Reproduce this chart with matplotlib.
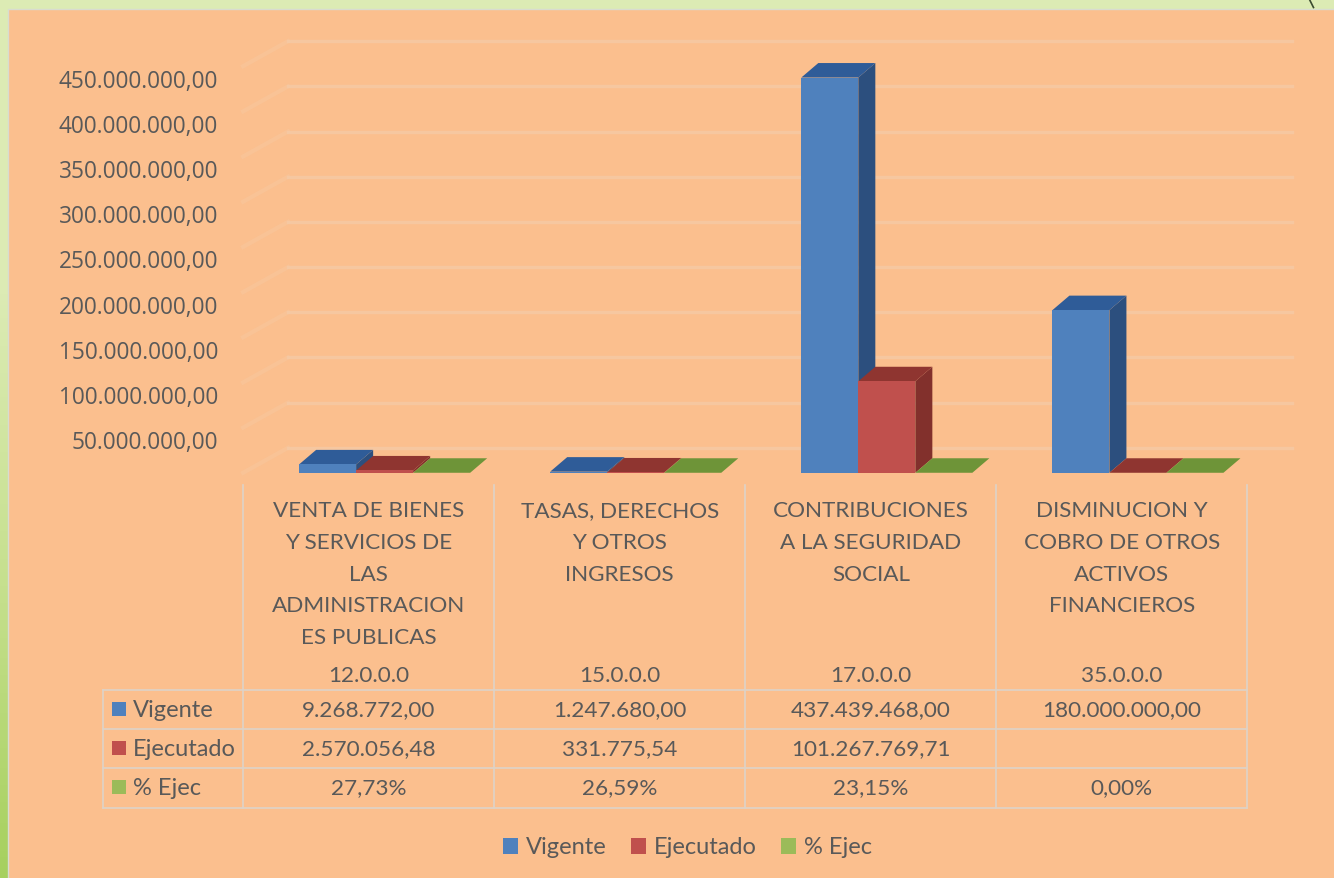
import numpy as np
import matplotlib
matplotlib.use('Agg')
import matplotlib.pyplot as plt
from matplotlib.patches import Polygon, Patch, Rectangle
from matplotlib.transforms import ScaledTranslation

categorias = [
    ['VENTA DE BIENES', 'Y SERVICIOS DE', 'LAS', 'ADMINISTRACION', 'ES PUBLICAS'],
    ['TASAS, DERECHOS', 'Y OTROS', 'INGRESOS'],
    ['CONTRIBUCIONES', 'A LA SEGURIDAD', 'SOCIAL'],
    ['DISMINUCION Y', 'COBRO DE OTROS', 'ACTIVOS', 'FINANCIEROS'],
]
codigos = ['12.0.0.0', '15.0.0.0', '17.0.0.0', '35.0.0.0']

series = ['Vigente', 'Ejecutado', '% Ejec']
vigente = [9268772.00, 1247680.00, 437439468.00, 180000000.00]
ejecutado = [2570056.48, 331775.54, 101267769.71, 0]
ejec_pct = [0.2773, 0.2659, 0.2315, 0.0]

vigente_txt = ['9.268.772,00', '1.247.680,00', '437.439.468,00', '180.000.000,00']
ejecutado_txt = ['2.570.056,48', '331.775,54', '101.267.769,71', '']
pct_txt = ['27,73%', '26,59%', '23,15%', '0,00%']

yticks = [50e6, 100e6, 150e6, 200e6, 250e6, 300e6, 350e6, 400e6, 450e6]
ytick_txt = ['50.000.000,00', '100.000.000,00', '150.000.000,00', '200.000.000,00',
             '250.000.000,00', '300.000.000,00', '350.000.000,00', '400.000.000,00',
             '450.000.000,00']

naranja = '#FBBF8E'
gris = '#595959'
linea = '#DDD3C8'
frente = ['#4F81BD', '#C0504D', '#9BBB59']
arriba = ['#2F5C98', '#8F3530', '#6E9438']
lado = ['#2C4F7E', '#82302C', '#5F8030']

W, H = 1334, 878
# el +0.5 evita que 8.78*100 se trunque a 877
fig = plt.figure(figsize=((W + 0.5) / 100, (H + 0.5) / 100), dpi=100)

# fondo y tabla, en pixeles de la figura
bg = fig.add_axes([0, 0, 1, 1])
bg.set_xlim(0, W)
bg.set_ylim(H, 0)
bg.axis('off')
grad = np.linspace(0, 1, 256).reshape(-1, 1)
cmap = matplotlib.colors.LinearSegmentedColormap.from_list(
    'borde', ['#DCEBB4', '#DCEBB4', '#C6E08E', '#A6D05E'])
bg.imshow(grad, extent=[0, W, H, 0], aspect='auto', cmap=cmap, zorder=0)
bg.add_patch(Rectangle((8, 9), W, H, fc=naranja, ec='#D8DCD0', lw=1, zorder=1))
bg.plot([1309, 1313], [0, 8], color='#3A4A30', lw=1.2, zorder=2)

x_col = [243, 494, 745, 996, 1247]
y_fil = [690, 729, 768, 808]
for x in x_col:
    bg.plot([x, x], [485, 808], color=linea, lw=1.2, zorder=2)
bg.plot([103, 103], [690, 808], color=linea, lw=1.2, zorder=2)
for y in y_fil:
    bg.plot([103, 1247], [y, y], color=linea, lw=1.2, zorder=2)

fs_tabla = 16.2
for i, lineas in enumerate(categorias):
    xc = (x_col[i] + x_col[i + 1]) / 2
    for j, t in enumerate(lineas):
        bg.text(xc, 511 + j * 31.6, t, ha='center', va='center', family='Lato',
                fontsize=fs_tabla, color=gris, zorder=3)
    bg.text(xc, 676, codigos[i], ha='center', va='center', family='Lato',
            fontsize=fs_tabla, color=gris, zorder=3)
    for y, col in zip([710, 749, 788], [vigente_txt, ejecutado_txt, pct_txt]):
        bg.text(xc, y, col[i], ha='center', va='center', family='Lato',
                fontsize=fs_tabla, color=gris, zorder=3)

for y, nombre, c in zip([709, 748, 787], series, frente):
    bg.add_patch(Rectangle((112, y - 7), 14, 14, fc=c, ec='none', zorder=3))
    bg.text(133, y + 1, nombre, ha='left', va='center', family='Lato',
            fontsize=17, color=gris, zorder=3)

# grafico 3D falso
base_y = 473
px_por_valor = (473 - 78) / 437439468.0
top_px = 30
ax = fig.add_axes([243 / W, 1 - base_y / H, (1247 - 243) / W, (base_y - top_px) / H])
ax.patch.set_alpha(0)
ax.set_xlim(0, 4)
ax.set_ylim(0, (base_y - top_px) / px_por_valor)
for s in ax.spines.values():
    s.set_visible(False)
ax.set_xticks([])
ax.set_yticks(yticks)
ax.set_yticklabels(ytick_txt, fontsize=16.3, color=gris, family='Open Sans')
ax.tick_params(axis='y', length=0, pad=18)
desplazar = ScaledTranslation(0, -12 / 100, fig.dpi_scale_trans)
for lab in ax.get_yticklabels():
    lab.set_transform(lab.get_transform() + desplazar)

px_x = 1 / 251.0
px_y = 1 / px_por_valor

# pared del fondo
pared_dx, pared_dy = 45 * px_x, 25 * px_y
for v in [0] + yticks:
    ax.plot([0, pared_dx], [v, v + pared_dy], color='#F6CBA6', lw=3, alpha=0.35,
            clip_on=False, zorder=1)
    ax.plot([pared_dx, 4 + pared_dx], [v + pared_dy, v + pared_dy], color='#F4CBA8',
            lw=2.4, alpha=0.7, clip_on=False, zorder=1)

# barras con frente, lado y tapa
ancho = 57 * px_x
inicio = 56 * px_x
dx, dy = 17 * px_x, 14.5 * px_y
valores = [vigente, ejecutado, ejec_pct]
for k in range(3):
    pos = [i + inicio + k * ancho for i in range(4)]
    z = 3 + k
    ax.bar(pos, valores[k], width=ancho, align='edge', color=frente[k], zorder=z + 0.2)
    for x0, v in zip(pos, valores[k]):
        x1 = x0 + ancho
        ax.add_patch(Polygon([(x1, 0), (x1 + dx, dy), (x1 + dx, v + dy), (x1, v)],
                             fc=lado[k], ec='none', zorder=z))
        ax.add_patch(Polygon([(x0, v), (x1, v), (x1 + dx, v + dy), (x0 + dx, v + dy)],
                             fc=arriba[k], ec='none', zorder=z + 0.1))

handles = [Patch(fc=c, ec='none') for c in frente]
fig.legend(handles, series, loc='center', bbox_to_anchor=(687 / W, 1 - 847.5 / H), ncol=3,
           frameon=False, prop={'family': 'Lato', 'size': 17}, labelcolor=gris,
           handlelength=0.65, handleheight=0.65, handletextpad=0.3, columnspacing=1.05)

fig.savefig('out.png', dpi=100)
